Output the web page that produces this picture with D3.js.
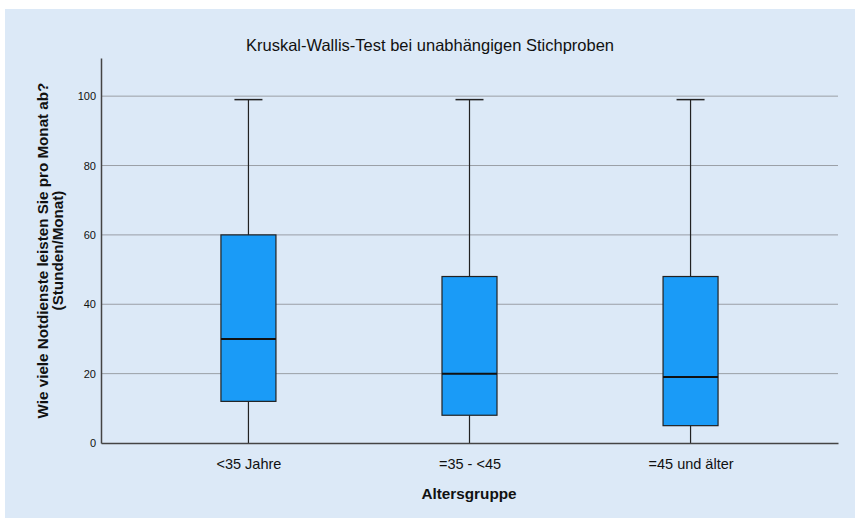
<!DOCTYPE html>
<html>
<head>
<meta charset="utf-8">
<script src="https://cdn.jsdelivr.net/npm/d3@7"></script>
<style>
  body { margin: 0; background: #fff; }
  svg { display: block; font-family: "Liberation Sans", Arial, sans-serif; }
</style>
</head>
<body>
<div id="chart"></div>
<script>
// data
var groups = ["<35 Jahre", "=35 - <45", "=45 und älter"];
var mins    = [0, 0, 0];
var q1s     = [12, 8, 5];
var medians = [30, 20, 19];
var q3s     = [60, 48, 48];
var maxs    = [99, 99, 99];
var yTicks  = [0, 20, 40, 60, 80, 100];

var width = 855, height = 522;
var margin = {left: 101, right: 17, top: 58, bottom: 79};

var svg = d3.select("#chart").append("svg")
    .attr("width", width)
    .attr("height", height);

svg.append("rect")
    .attr("x", 5).attr("y", 9)
    .attr("width", width - 5).attr("height", height - 13)
    .attr("fill", "#dce9f7");

var x = d3.scalePoint()
    .domain(groups)
    .range([margin.left, width - margin.right])
    .padding(0.667);

var y = d3.scaleLinear()
    .domain([0, 111])
    .range([height - margin.bottom, margin.top]);

// gridlines
svg.append("g")
  .selectAll("line")
    .data(yTicks.filter(function(d) { return d > 0; }))
  .enter().append("line")
    .attr("x1", margin.left).attr("x2", width - margin.right)
    .attr("y1", function(d) { return y(d); })
    .attr("y2", function(d) { return y(d); })
    .attr("stroke", "#9a9fa6")
    .attr("stroke-width", 1);

var boxes = groups.map(function(g, i) {
  return {name: g, min: mins[i], q1: q1s[i], med: medians[i], q3: q3s[i], max: maxs[i]};
});

var boxW = 55, capW = 28;

var bx = svg.append("g").selectAll("g")
    .data(boxes)
  .enter().append("g");

// whiskers
bx.append("line")
    .attr("x1", function(d) { return x(d.name); })
    .attr("x2", function(d) { return x(d.name); })
    .attr("y1", function(d) { return y(d.max); })
    .attr("y2", function(d) { return y(d.min); })
    .attr("stroke", "#222")
    .attr("stroke-width", 1.2);

bx.append("line")
    .attr("x1", function(d) { return x(d.name) - capW / 2; })
    .attr("x2", function(d) { return x(d.name) + capW / 2; })
    .attr("y1", function(d) { return y(d.max); })
    .attr("y2", function(d) { return y(d.max); })
    .attr("stroke", "#222")
    .attr("stroke-width", 1.5);

bx.append("rect")
    .attr("x", function(d) { return x(d.name) - boxW / 2; })
    .attr("width", boxW)
    .attr("y", function(d) { return y(d.q3); })
    .attr("height", function(d) { return y(d.q1) - y(d.q3); })
    .attr("fill", "#1a9bf7")
    .attr("stroke", "#222")
    .attr("stroke-width", 1.2);

bx.append("line")
    .attr("x1", function(d) { return x(d.name) - boxW / 2; })
    .attr("x2", function(d) { return x(d.name) + boxW / 2; })
    .attr("y1", function(d) { return y(d.med); })
    .attr("y2", function(d) { return y(d.med); })
    .attr("stroke", "#111")
    .attr("stroke-width", 2);

// axes
var yAxis = svg.append("g")
    .attr("transform", "translate(" + margin.left + ",0)")
    .call(d3.axisLeft(y).tickValues(yTicks).tickSize(0).tickPadding(5));
yAxis.select(".domain").attr("stroke", "#444").attr("stroke-width", 1.5);
yAxis.selectAll("text")
    .attr("font-size", 11)
    .attr("font-family", "Liberation Sans, Arial, sans-serif")
    .attr("fill", "#111");

var xAxis = svg.append("g")
    .attr("transform", "translate(0," + (height - margin.bottom) + ")")
    .call(d3.axisBottom(x).tickSize(0).tickPadding(16));
xAxis.select(".domain").attr("stroke", "#444").attr("stroke-width", 1.5);
xAxis.selectAll("text")
    .attr("font-size", 14.5)
    .attr("font-family", "Liberation Sans, Arial, sans-serif")
    .attr("fill", "#111");

// titles
svg.append("text")
    .attr("x", 430).attr("y", 51)
    .attr("text-anchor", "middle")
    .attr("font-size", 16.5)
    .attr("fill", "#111")
    .text("Kruskal-Wallis-Test bei unabhängigen Stichproben");

svg.append("text")
    .attr("x", 469).attr("y", 499)
    .attr("text-anchor", "middle")
    .attr("font-size", 15.3)
    .attr("font-weight", "bold")
    .attr("fill", "#111")
    .text("Altersgruppe");

var yl = svg.append("text")
    .attr("transform", "translate(48," + ((margin.top + height - margin.bottom) / 2) + ") rotate(-90)")
    .attr("text-anchor", "middle")
    .attr("font-size", 15.2)
    .attr("font-weight", "bold")
    .attr("fill", "#111");
yl.append("tspan").attr("x", 0).attr("dy", 0)
    .text("Wie viele Notdienste leisten Sie pro Monat ab?");
yl.append("tspan").attr("x", 0).attr("dy", 15)
    .text("(Stunden/Monat)");
</script>
</body>
</html>
